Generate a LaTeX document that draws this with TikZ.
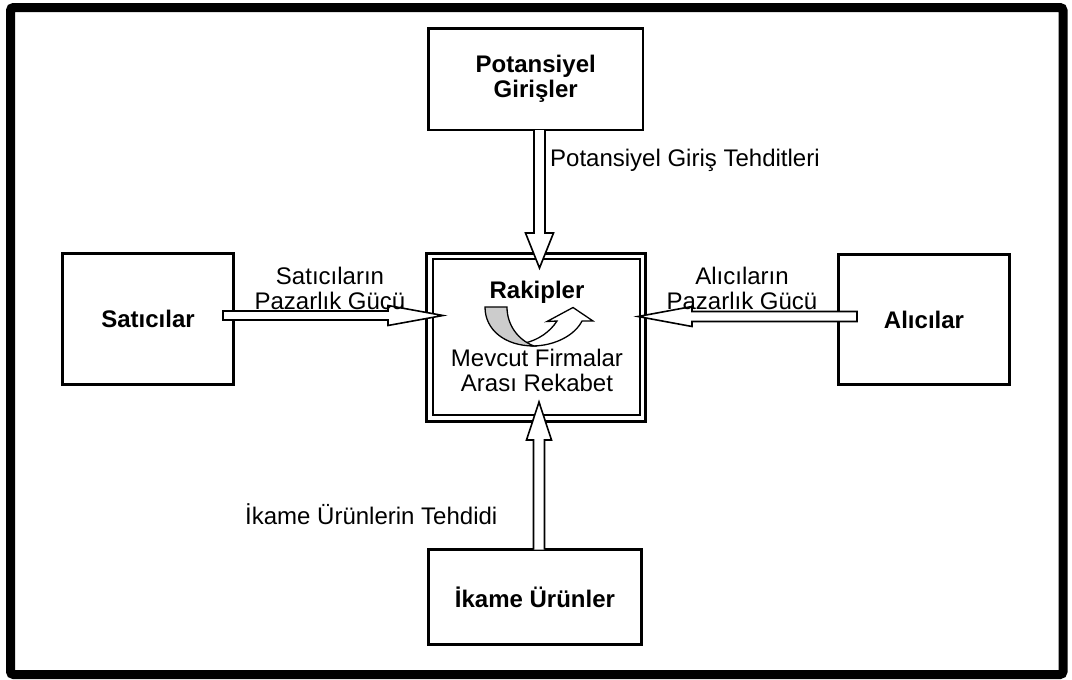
\documentclass[tikz,border=0pt]{standalone}
\usepackage{fontspec}
\setmainfont{Liberation Sans}
\usetikzlibrary{calc}
\begin{document}
\begin{tikzpicture}[x=1pt,y=-1pt,
  box/.style={draw=black, line width=2.8pt, fill=white, inner sep=0pt, outer sep=0pt,
    font=\fontsize{24}{25}\selectfont\bfseries, align=center},
  dblbox/.style={draw=black, inner sep=0pt, outer sep=0pt},
  lbl/.style={inner sep=0pt, font=\fontsize{24}{25}\selectfont, align=center},
  blbl/.style={inner sep=0pt, font=\fontsize{24}{25}\selectfont\bfseries, align=center},
  blockarr/.style={draw=black, line width=1.6pt, fill=white, line join=miter},
  curvarr/.style={draw=black, line width=1.3pt, line join=miter},
  frame/.style={draw=black, line width=9pt, rounded corners=3pt}]
\useasboundingbox (0,0) rectangle (1072,680);
\fill[white] (0,0) rectangle (1072,680);
\draw[frame] (10.5,7.5) rectangle (1063,674.5);

% outer boxes
\node[box, minimum width=214.5pt, minimum height=101.5pt] (pot) at (535.75,79.25) {Potansiyel\\Girişler};
\node[box, minimum width=171pt, minimum height=131pt] (sat) at (148,319) {Satıcılar};
\node[box, minimum width=171pt, minimum height=130pt] (alc) at (924,319.5) {Alıcılar};
\node[box, minimum width=213pt, minimum height=95pt] (ika) at (535,597) {İkame Ürünler};

% central double box
\node[dblbox, line width=3pt, minimum width=219pt, minimum height=168pt] (rak) at (536,337.5) {};
\node[dblbox, line width=2pt, minimum width=207pt, minimum height=156pt] (rakin) at (536,336.5) {};

% arrow end points
\coordinate (a1s) at (539.5,130);
\coordinate (a1e) at (539.5,268);
\coordinate (a2s) at (539,549.5);
\coordinate (a2e) at (539,402);
\coordinate (a3s) at (223,315.5);
\coordinate (a3e) at (443,315.5);
\coordinate (a4s) at (857,316.5);
\coordinate (a4e) at (638,316.5);

% top arrow: Potansiyel Girişler -> Rakipler
\draw[blockarr] ($(a1s)+(-5.5,0)$) -- ($(a1e)+(-5.5,-35)$) -- ($(a1e)+(-14,-35)$) -- (a1e)
  -- ($(a1e)+(14,-35)$) -- ($(a1e)+(5.5,-35)$) -- ($(a1s)+(5.5,0)$);
% bottom arrow: İkame Ürünler -> Rakipler
\draw[blockarr] ($(a2s)+(-5.5,0)$) -- ($(a2e)+(-5.5,38)$) -- ($(a2e)+(-12.5,38)$) -- (a2e)
  -- ($(a2e)+(12.5,38)$) -- ($(a2e)+(5.5,38)$) -- ($(a2s)+(5.5,0)$);
% left arrow: Satıcılar -> Rakipler
\draw[blockarr] ($(a3s)+(0,-4.5)$) -- ($(a3e)+(-55,-4.5)$) -- ($(a3e)+(-55,-10)$) -- (a3e)
  -- ($(a3e)+(-55,10)$) -- ($(a3e)+(-55,4.5)$) -- ($(a3s)+(0,4.5)$) -- cycle;
% right arrow: Alıcılar -> Rakipler
\draw[blockarr] ($(a4s)+(0,-5)$) -- ($(a4e)+(54,-5)$) -- ($(a4e)+(54,-10)$) -- (a4e)
  -- ($(a4e)+(54,10)$) -- ($(a4e)+(54,5)$) -- ($(a4s)+(0,5)$) -- cycle;

% central texts
\node[blbl] (rakt) at (537,292) {Rakipler};
\node[lbl] (mev) at (537,370) {Mevcut Firmalar\\Arası Rekabet};

% curved U-turn arrow
\draw[curvarr, fill=white] (532,346) .. controls (555,346) and (575,335) .. (582,321)
  -- (593,321) -- (573,307.5) -- (547,321.5) -- (557,321)
  .. controls (550,332) and (538,340) .. (525,343) -- cycle;
\draw[curvarr, fill=gray!40] (485,307) -- (507,307) .. controls (507,325) and (518,340) .. (534,346)
  .. controls (505,346) and (485,330) .. (485,307) -- cycle;

% arrow labels
\node[lbl, anchor=base west] (l1) at (550,166.5) {Potansiyel Giriş Tehditleri};
\node[lbl] (l2) at (330,288) {Satıcıların\\Pazarlık Gücü};
\node[lbl] (l3) at (742,288) {Alıcıların\\Pazarlık Gücü};
\node[lbl, anchor=base west] (l4) at (245,524) {İkame Ürünlerin Tehdidi};
\end{tikzpicture}
\end{document}
